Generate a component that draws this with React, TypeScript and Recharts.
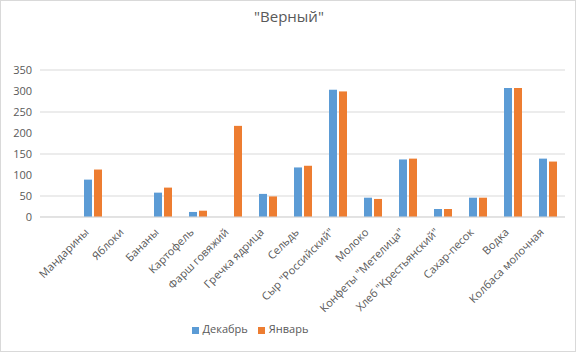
import { BarChart, Bar, XAxis, YAxis, CartesianGrid, Legend } from "recharts";

const products = [
  "",
  "Мандарины",
  "Яблоки",
  "Бананы",
  "Картофель",
  "Фарш говяжий",
  "Гречка ядрица",
  "Сельдь",
  "Сыр \"Российский\"",
  "Молоко",
  "Конфеты \"Метелица\"",
  "Хлеб \"Крестьянский\"",
  "Сахар-песок",
  "Водка",
  "Колбаса молочная",
];
const december = [null, 89, null, 58, 12, null, 55, 118, 303, 46, 137, 19, 46, 307, 139];
const january = [null, 113, null, 70, 15, 217, 49, 122, 299, 43, 139, 19, 46, 307, 132];
const yTicks = [0, 50, 100, 150, 200, 250, 300, 350];

const data = products.map((name, i) => ({ name, dec: december[i], jan: january[i] }));

const font = "'Open Sans', 'Noto Sans', sans-serif";

function CategoryTick(props: any) {
  const { x, y, payload } = props;
  return (
    <text
      x={x - 3}
      y={y + 8}
      transform={`rotate(-45, ${x - 3}, ${y + 8})`}
      textAnchor="end"
      fontSize={11}
      fontFamily={font}
      fill="#595959"
    >
      {payload.value}
    </text>
  );
}

export default function App() {
  return (
    <div
      style={{
        position: "absolute",
        left: 0,
        top: 0,
        width: 576,
        height: 352,
        border: "1px solid #d9d9d9",
        boxSizing: "border-box",
        background: "#fff",
        fontFamily: font,
      }}
    >
      <div
        style={{
          position: "absolute",
          top: 5,
          left: 0,
          width: 576,
          textAlign: "center",
          fontSize: 15,
          color: "#595959",
        }}
      >
        "Верный"
      </div>
      <BarChart
        width={574}
        height={350}
        data={data}
        margin={{ top: 69, right: 10, left: 0, bottom: 24 }}
        barSize={8}
        barGap={2}
      >
        <CartesianGrid vertical={false} stroke="#d9d9d9" />
        <XAxis
          dataKey="name"
          interval={0}
          height={95}
          tick={<CategoryTick />}
          tickLine={false}
          axisLine={{ stroke: "#d9d9d9" }}
        />
        <YAxis
          width={39}
          domain={[0, 350]}
          ticks={yTicks}
          tickLine={false}
          axisLine={false}
          tick={{ fontSize: 11, fill: "#595959", fontFamily: font }}
        />
        <Legend
          iconType="square"
          iconSize={7}
          wrapperStyle={{ top: 320, left: 154, width: 200, fontSize: 11, color: "#595959" }}
          formatter={(v: string) => <span style={{ color: "#595959" }}>{v}</span>}
        />
        <Bar dataKey="dec" name="Декабрь" fill="#5B9BD5" isAnimationActive={false} />
        <Bar dataKey="jan" name="Январь" fill="#ED7D31" isAnimationActive={false} />
      </BarChart>
    </div>
  );
}
